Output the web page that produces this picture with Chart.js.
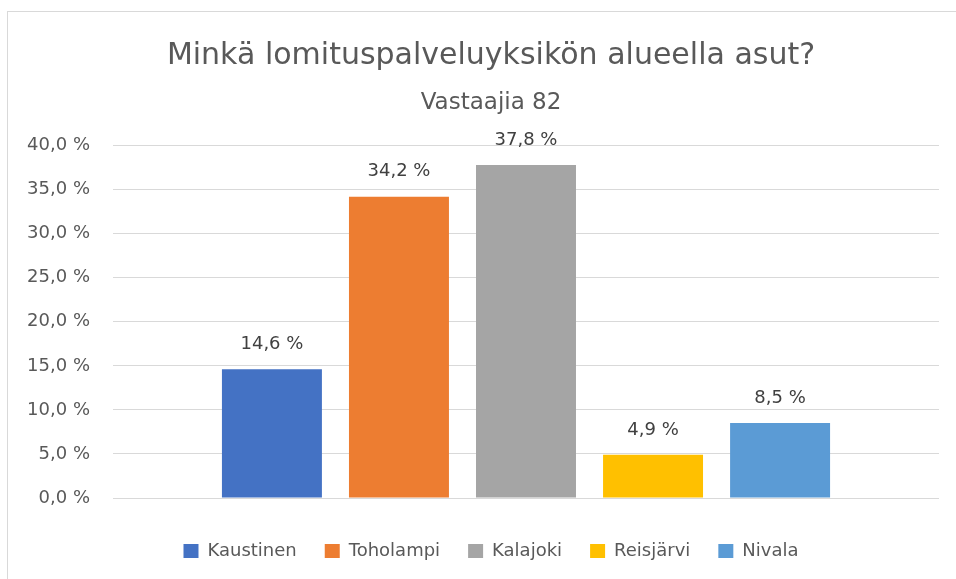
<!DOCTYPE html>
<html>
<head>
<meta charset="utf-8">
<script src="https://cdn.jsdelivr.net/npm/chart.js@4.4.1/dist/chart.umd.min.js"></script>
<style>
  html, body { margin: 0; padding: 0; background: #fff; }
  #wrap { position: relative; width: 956px; height: 579px; }
</style>
</head>
<body>
<div id="wrap"><canvas id="myBarChart" width="956" height="579"></canvas></div>
<script>
const FONT = "'DejaVu Sans', 'Noto Sans', sans-serif"

const titleText = 'Minkä lomituspalveluyksikön alueella asut?'
const subtitleText = 'Vastaajia 82'
const regions = ['Kaustinen', 'Toholampi', 'Kalajoki', 'Reisjärvi', 'Nivala']
const shares = [14.6, 34.2, 37.8, 4.9, 8.5]
const colors = ['#4472C4', '#ED7D31', '#A5A5A5', '#FFC000', '#5B9BD5']
const yTicks = [0, 5, 10, 15, 20, 25, 30, 35, 40]

const fmt = v => v.toFixed(1).replace('.', ',') + ' %'

// outer frame of the chart object
const framePlugin = {
    id: 'frame',
    beforeDraw(chart) {
        const ctx = chart.ctx
        ctx.save()
        ctx.fillStyle = '#fff'
        ctx.fillRect(0, 0, chart.width, chart.height)
        ctx.strokeStyle = '#d9d9d9'
        ctx.lineWidth = 1
        ctx.strokeRect(7.5, 11.5, chart.width + 10, chart.height + 10)
        ctx.restore()
    }
}

// value labels above each bar
const valueLabels = {
    id: 'valueLabels',
    afterDatasetsDraw(chart) {
        const ctx = chart.ctx
        ctx.save()
        ctx.font = '18px ' + FONT
        ctx.fillStyle = '#404040'
        ctx.textAlign = 'center'
        ctx.textBaseline = 'middle'
        chart.data.datasets.forEach((ds, i) => {
            const bar = chart.getDatasetMeta(i).data[0]
            ctx.fillText(fmt(ds.data[0]), bar.x, bar.y - 25)
        })
        ctx.restore()
    }
}

const ctx = document.getElementById('myBarChart').getContext('2d')
const chart = new Chart(ctx, {
    type: 'bar',
    data: {
        labels: [''],
        datasets: regions.map((name, i) => ({
            label: name,
            data: [shares[i]],
            backgroundColor: colors[i],
            borderWidth: 0
        }))
    },
    options: {
        responsive: false,
        animation: false,
        devicePixelRatio: 1,
        categoryPercentage: 0.769,
        barPercentage: 0.787,
        layout: { padding: { left: 26, right: 0, top: 30, bottom: 9 } },
        plugins: {
            title: {
                display: true,
                text: titleText,
                color: '#595959',
                font: { family: FONT, size: 30, weight: 'normal' },
                padding: { top: 8, bottom: 15 }
            },
            subtitle: {
                display: true,
                text: subtitleText,
                color: '#595959',
                font: { family: FONT, size: 23, weight: 'normal' },
                padding: { top: 0, bottom: 29 }
            },
            legend: {
                position: 'bottom',
                labels: {
                    color: '#595959',
                    font: { family: FONT, size: 18 },
                    boxWidth: 15,
                    boxHeight: 14,
                    padding: 28
                }
            },
            tooltip: { enabled: false }
        },
        scales: {
            x: {
                grid: { display: false },
                border: { display: false },
                ticks: { display: false },
                afterFit: s => { s.height = 16 }
            },
            y: {
                min: 0,
                max: 40,
                afterBuildTicks: s => { s.ticks = yTicks.map(v => ({ value: v })) },
                afterFit: s => { s.width = 87 },
                border: { display: false },
                grid: { color: '#d9d9d9', lineWidth: 1, drawTicks: false },
                ticks: {
                    padding: 23,
                    color: '#595959',
                    font: { family: FONT, size: 18 },
                    callback: v => fmt(v)
                }
            },
            // empty right-hand strip so the plot ends where the original does
            yRight: {
                position: 'right',
                grid: { display: false },
                border: { display: false },
                ticks: { display: false },
                afterFit: s => { s.width = 17 }
            }
        }
    },
    plugins: [framePlugin, valueLabels]
})
</script>
</body>
</html>
